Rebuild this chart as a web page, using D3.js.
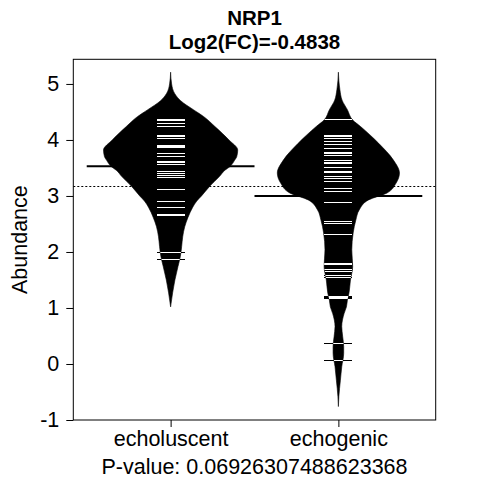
<!DOCTYPE html>
<html>
<head>
<meta charset="utf-8">
<script src="https://cdn.jsdelivr.net/npm/d3@7"></script>
<style>
  body { margin: 0; background: #fff; }
  text { font-family: "Liberation Sans", Arial, sans-serif; fill: #000; }
</style>
</head>
<body>
<div id="chart"></div>
<script>
// groups on the x axis
var groups = ["echoluscent", "echogenic"];
var yTicks = [-1, 0, 1, 2, 3, 4, 5];
var titleLines = ["NRP1", "Log2(FC)=-0.4838"];
var yLabel = "Abundance";
var pLabel = "P-value: 0.06926307488623368";

// bean outlines: value and relative density
var densLucent = [
    [5.21, 0], [5.0, 0.015], [4.83, 0.06], [4.7, 0.15], [4.54, 0.34], [4.42, 0.49],
    [4.24, 0.66], [4.0, 0.87], [3.82, 1.0], [3.7, 0.985], [3.64, 0.955], [3.52, 0.88],
    [3.46, 0.81], [3.35, 0.73], [3.17, 0.58], [3.0, 0.46], [2.91, 0.39], [2.8, 0.33],
    [2.62, 0.26], [2.45, 0.21], [2.27, 0.18], [2.1, 0.165], [1.92, 0.145], [1.74, 0.11],
    [1.5, 0.064], [1.27, 0.03], [1.02, 0]
];
var densGenic = [
    [5.21, 0], [4.9, 0.022], [4.71, 0.055], [4.54, 0.134], [4.36, 0.21], [4.24, 0.33],
    [3.94, 0.6], [3.64, 0.82], [3.41, 0.91], [3.23, 0.86], [3.05, 0.72], [2.93, 0.45],
    [2.75, 0.31], [2.57, 0.26], [2.34, 0.22], [2.04, 0.2], [1.74, 0.213], [1.5, 0.18],
    [1.26, 0.157], [1.14, 0.134], [1.02, 0.12], [0.9, 0.085], [0.67, 0.05], [0.49, 0.064],
    [0.31, 0.079], [0.19, 0.079], [-0.05, 0.05], [-0.29, 0.03], [-0.58, 0.007], [-0.76, 0]
];

// single observations (bean lines)
var obsLucent = [4.37, 4.35, 4.30, 4.25, 4.08, 4.07, 4.04, 3.91, 3.90, 3.87, 3.76, 3.72,
    3.63, 3.61, 3.57, 3.45, 3.41, 3.375, 3.33, 3.12, 2.91, 2.80, 2.68, 2.67, 2.66,
    2.005, 1.875];
var obsGenic = [4.37, 4.085, 4.075, 4.04, 3.98, 3.93, 3.85, 3.79, 3.77, 3.73, 3.64,
    3.605, 3.595, 3.52, 3.45, 3.42, 3.36, 3.32, 3.27, 3.145, 3.135, 3.08, 2.89, 2.56,
    2.51, 2.32, 1.81, 1.79, 1.70, 1.66, 1.58, 1.55, 1.22, 1.19, 1.17, 0.375, 0.065];

var groupMeans = [3.53, 3.0];
var overallMean = 3.17;

var W = 480, H = 480;
var box = {left: 73.3, right: 435.7, top: 59.3, bottom: 420};

var svg = d3.select("#chart").append("svg")
        .attr("width", W)
        .attr("height", H);
svg.append("rect").attr("width", W).attr("height", H).attr("fill", "#fff");

var x = d3.scaleLinear().domain([0.42, 2.58]).range([box.left, box.right]);
var y = d3.scaleLinear().domain([-1, 5.44]).range([box.bottom, box.top]);
// density -> half width in group units
var wid = d3.scaleLinear().domain([0, 1]).range([0, 0.4]);

var beans = [
    {name: groups[0], pos: 1, dens: densLucent, obs: obsLucent, mean: groupMeans[0]},
    {name: groups[1], pos: 2, dens: densGenic, obs: obsGenic, mean: groupMeans[1]}
];

var defs = svg.append("defs");

beans.forEach(function (b, i) {
    var area = d3.area()
            .curve(d3.curveMonotoneY)
            .y(function (d) { return y(d[0]); })
            .x0(function (d) { return x(b.pos - wid(d[1])); })
            .x1(function (d) { return x(b.pos + wid(d[1])); });
    var path = area(b.dens);

    defs.append("clipPath").attr("id", "bean" + i)
            .append("path").attr("d", path);

    svg.append("path")
            .attr("d", path)
            .attr("fill", "#000")
            .attr("stroke", "#000")
            .attr("stroke-width", 0.6);

    // bean lines: black outside the bean, white inside
    var g = svg.append("g").attr("shape-rendering", "crispEdges");
    g.selectAll("line.out")
            .data(b.obs)
            .enter()
            .append("line")
            .attr("x1", x(b.pos - 0.0835))
            .attr("x2", x(b.pos + 0.0835))
            .attr("y1", function (d) { return Math.round(y(d)) + 0.5; })
            .attr("y2", function (d) { return Math.round(y(d)) + 0.5; })
            .attr("stroke", "#000");
    g.append("g").attr("clip-path", "url(#bean" + i + ")")
            .selectAll("line")
            .data(b.obs)
            .enter()
            .append("line")
            .attr("x1", x(b.pos - 0.0835))
            .attr("x2", x(b.pos + 0.0835))
            .attr("y1", function (d) { return Math.round(y(d)) + 0.5; })
            .attr("y2", function (d) { return Math.round(y(d)) + 0.5; })
            .attr("stroke", "#fff");

    // group mean
    svg.append("line")
            .attr("x1", x(b.pos - 0.5))
            .attr("x2", x(b.pos + 0.5))
            .attr("y1", y(b.mean))
            .attr("y2", y(b.mean))
            .attr("stroke", "#000")
            .attr("stroke-width", 2);
});

// overall mean, dotted
svg.append("line")
        .attr("x1", box.left)
        .attr("x2", box.right)
        .attr("y1", Math.round(y(overallMean)) + 0.5)
        .attr("y2", Math.round(y(overallMean)) + 0.5)
        .attr("stroke", "#000")
        .attr("stroke-dasharray", "2,2");

// box
svg.append("rect")
        .attr("x", box.left)
        .attr("y", box.top)
        .attr("width", box.right - box.left)
        .attr("height", box.bottom - box.top)
        .attr("fill", "none")
        .attr("stroke", "#000");

// axes
var yAxis = svg.append("g")
        .attr("transform", "translate(" + box.left + ",0)")
        .call(d3.axisLeft(y).tickValues(yTicks).tickSize(7).tickPadding(7)
                .tickFormat(function (d) { return String(d); }));
yAxis.select(".domain").remove();
yAxis.selectAll("text").style("font-size", "21.5px");

var xAxis = svg.append("g")
        .attr("transform", "translate(0," + box.bottom + ")")
        .call(d3.axisBottom(x).tickValues([1, 2]).tickSize(7)
                .tickFormat(function (d) { return groups[d - 1]; }));
xAxis.select(".domain").remove();
xAxis.selectAll("text")
        .style("font-size", "21.5px")
        .attr("y", 26)
        .attr("dy", null);
svg.selectAll(".tick line").attr("stroke", "#000");
svg.selectAll(".tick text").attr("fill", "#000").attr("font-family", null);

// titles
svg.selectAll("text.title")
        .data(titleLines)
        .enter()
        .append("text")
        .attr("class", "title")
        .attr("x", (box.left + box.right) / 2)
        .attr("y", function (d, i) { return 25 + i * 24; })
        .attr("text-anchor", "middle")
        .style("font-size", "20.5px")
        .style("font-weight", "bold")
        .text(function (d) { return d; });

svg.append("text")
        .attr("x", (box.left + box.right) / 2)
        .attr("y", 474)
        .attr("text-anchor", "middle")
        .style("font-size", "21.5px")
        .text(pLabel);

svg.append("text")
        .attr("transform", "translate(27," + (box.top + box.bottom) / 2 + ") rotate(-90)")
        .attr("text-anchor", "middle")
        .style("font-size", "21.5px")
        .text(yLabel);
</script>
</body>
</html>
